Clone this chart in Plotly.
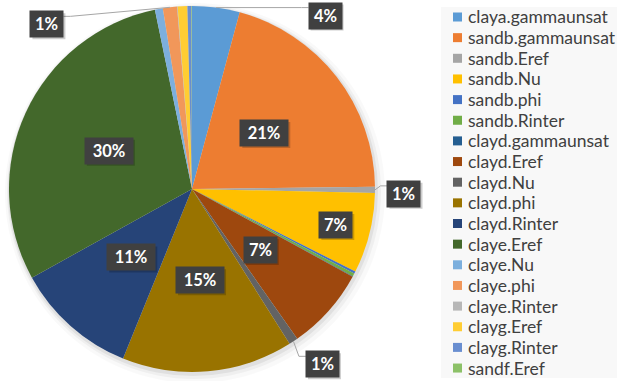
import math
import plotly.graph_objects as go

# Share of each parameter (percent)
categories = [
    "claya.gammaunsat", "sandb.gammaunsat", "sandb.Eref", "sandb.Nu",
    "sandb.phi", "sandb.Rinter", "clayd.gammaunsat", "clayd.Eref",
    "clayd.Nu", "clayd.phi", "clayd.Rinter", "claye.Eref",
    "claye.Nu", "claye.phi", "claye.Rinter", "clayg.Eref",
    "clayg.Rinter", "sandf.Eref",
]
values = [
    4.2, 20.6, 0.55, 7.1,
    0.2, 0.25, 0.05, 7.3,
    0.8, 15.1, 10.8, 29.8,
    0.7, 1.25, 0.05, 0.85,
    0.35, 0.05,
]
colors = [
    "#5B9BD5", "#ED7D31", "#A5A5A5", "#FFC000",
    "#4472C4", "#70AD47", "#255E91", "#9E480E",
    "#636363", "#997300", "#264478", "#43682B",
    "#7CAFDD", "#F1975A", "#B7B7B7", "#FFCD33",
    "#698ED0", "#8CC168",
]
# slices that carry a percentage label
labeled = [
    "claya.gammaunsat", "sandb.gammaunsat", "sandb.Eref", "sandb.Nu",
    "clayd.Eref", "clayd.Nu", "clayd.phi", "clayd.Rinter",
    "claye.Eref", "claye.phi",
]

W, H = 617, 381
CX, CY, R = 192, 189, 183

# label placement: radial fraction for inside labels, pixel offset for outside ones
inside_radius = {"sandb.Nu": 0.81}
outside_offset = {
    "claya.gammaunsat": (109, 8),
    "sandb.Eref": (29, 4),
    "clayd.Nu": (29, 23),
    "claye.phi": (-123, 17),
}


def px(x, y):
    return x / W, 1 - y / H


def polar(theta_deg, rf=1.0):
    t = math.radians(theta_deg)
    return CX + rf * R * math.sin(t), CY - rf * R * math.cos(t)


def rect(x0p, y0p, x1p, y1p, **kw):
    a, b = px(x0p, y0p)
    c, d = px(x1p, y1p)
    fig.add_shape(type="rect", xref="paper", yref="paper",
                  x0=a, x1=c, y0=d, y1=b, **kw)


fig = go.Figure()

# soft drop shadow behind the pie
for grow, dx, dy, alpha in [(7, 3, 4, 0.025), (4, 2, 3, 0.04), (2, 1, 2, 0.06)]:
    x0, y0 = px(CX - R - grow + dx, CY - R - grow + dy)
    x1, y1 = px(CX + R + grow + dx, CY + R + grow + dy)
    fig.add_shape(type="circle", xref="paper", yref="paper",
                  x0=x0, x1=x1, y0=y1, y1=y0, layer="below",
                  fillcolor=f"rgba(0,0,0,{alpha})", line_width=0)

# legend panel background
rect(441, 7, 617, 378, layer="below", fillcolor="#F8F8F8", line_width=0)

fig.add_trace(go.Pie(
    labels=categories,
    values=values,
    marker=dict(colors=colors, line=dict(width=0)),
    sort=False,
    direction="clockwise",
    rotation=0,
    textinfo="none",
    hoverinfo="label+percent",
    showlegend=False,
    domain=dict(x=[(CX - R) / W, (CX + R) / W],
                y=[1 - (CY + R) / H, 1 - (CY - R) / H]),
))

total = sum(values)
cum = 0.0
label_font = dict(family="Lato", size=16.5, color="white")
for name, v in zip(categories, values):
    share = v / total * 100
    start = cum / total * 360
    cum += v
    end = cum / total * 360
    mid = (start + end) / 2
    if name not in labeled:
        continue
    rounded = max(1, int(share + 0.5))
    text = f"<b>{rounded}%</b>"
    bw, bh = 15 * len(f"{rounded}%") + 3, 26
    if name in outside_offset:
        ex, ey = polar(mid)
        ox, oy = outside_offset[name]
        lx, ly = ex + ox, ey + oy
        side = lx - bw / 2 if ox > 0 else lx + bw / 2
        sgn = 1 if ox > 0 else -1
        ay = ly - bh / 2 + 5
        pts = [(ex, ey), (side - sgn * 7, ay), (side, ay)]
        path = "M " + " L ".join(f"{px(a, b)[0]:.5f},{px(a, b)[1]:.5f}" for a, b in pts)
        fig.add_shape(type="path", xref="paper", yref="paper", path=path,
                      line=dict(color="#A6A6A6", width=1))
    else:
        lx, ly = polar(mid, inside_radius.get(name, 0.5))
    # box shadow
    rect(lx - bw / 2 + 2, ly - bh / 2 + 2, lx + bw / 2 + 2, ly + bh / 2 + 2,
         fillcolor="rgba(0,0,0,0.2)", line_width=0)
    ax_, ay_ = px(lx, ly)
    fig.add_annotation(x=ax_, y=ay_, xref="paper", yref="paper", text=text,
                       showarrow=False, width=bw, height=bh, borderpad=0,
                       xanchor="center", yanchor="middle",
                       bgcolor="#404040", font=label_font)

# legend entries
for i, (name, c) in enumerate(zip(categories, colors)):
    yc = 17 + i * 20.65
    rect(453, yc - 4.5, 462, yc + 4.5, fillcolor=c, line_width=0)
    tx, ty = px(466, yc)
    fig.add_annotation(x=tx, y=ty, xref="paper", yref="paper", text=name,
                       showarrow=False, xanchor="left", yanchor="middle",
                       font=dict(family="Lato", size=17.5, color="#404040"))

fig.update_layout(
    width=W, height=H,
    margin=dict(l=0, r=0, t=0, b=0),
    paper_bgcolor="white",
    plot_bgcolor="white",
)

fig.write_html("out.html")
